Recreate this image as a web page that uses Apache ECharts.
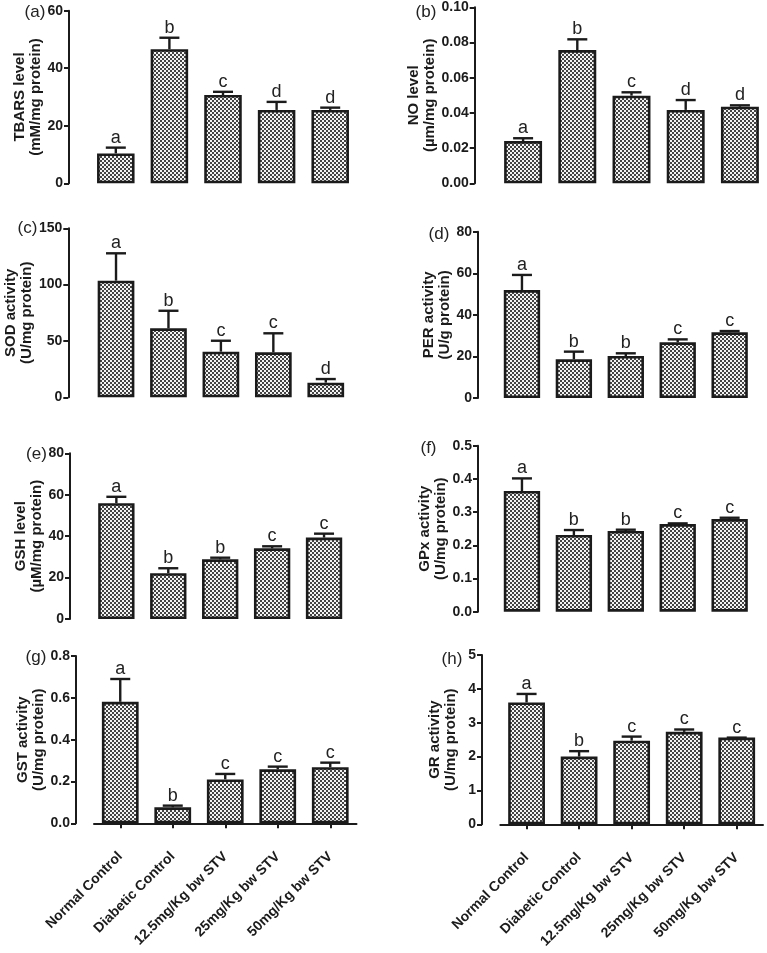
<!DOCTYPE html>
<html>
<head>
<meta charset="utf-8">
<script src="https://cdn.jsdelivr.net/npm/echarts@6/dist/echarts.min.js"></script>
<style>
html,body{margin:0;padding:0;background:#fff;}
#main{width:767px;height:953px;}
</style>
</head>
<body>
<div id="main"></div>
<script>
// ---------------- DATA ----------------
const categories = ['Normal Control', 'Diabetic Control', '12.5mg/Kg bw STV', '25mg/Kg bw STV', '50mg/Kg bw STV'];

const tbarsMean = [10.4, 46.6, 30.7, 25.5, 25.5];
const tbarsSem  = [2.0, 4.0, 1.1, 2.8, 0.8];
const tbarsLetters = ['a', 'b', 'c', 'd', 'd'];

const noMean = [0.024, 0.0757, 0.0498, 0.0417, 0.0435];
const noSem  = [0.0016, 0.0061, 0.0019, 0.0056, 0.0008];
const noLetters = ['a', 'b', 'c', 'd', 'd'];

const sodMean = [103.5, 61.2, 40.5, 39.9, 13.0];
const sodSem  = [24.3, 15.6, 9.7, 16.9, 3.2];
const sodLetters = ['a', 'b', 'c', 'c', 'd'];

const perMean = [51.9, 18.6, 20.2, 26.8, 31.6];
const perSem  = [7.3, 3.7, 1.3, 1.4, 0.6];
const perLetters = ['a', 'b', 'b', 'c', 'c'];

const gshMean = [55.9, 22.1, 28.8, 34.1, 39.3];
const gshSem  = [3.1, 2.4, 0.8, 1.0, 1.9];
const gshLetters = ['a', 'b', 'b', 'c', 'c'];

const gpxMean = [0.3635, 0.231, 0.243, 0.264, 0.279];
const gpxSem  = [0.038, 0.015, 0.004, 0.002, 0.004];
const gpxLetters = ['a', 'b', 'b', 'c', 'c'];

const gstMean = [0.581, 0.0765, 0.21, 0.258, 0.268];
const gstSem  = [0.109, 0.008, 0.026, 0.013, 0.022];
const gstLetters = ['a', 'b', 'c', 'c', 'c'];

const grMean = [3.60, 2.00, 2.47, 2.73, 2.56];
const grSem  = [0.25, 0.16, 0.12, 0.07, 0.0];
const grLetters = ['a', 'b', 'c', 'c', 'c'];

const panelTags = ['(a)', '(b)', '(c)', '(d)', '(e)', '(f)', '(g)', '(h)'];
const yTitles = [
  ['TBARS level', '(mM/mg protein)'],
  ['NO level', '(\u00b5m/mg protein)'],
  ['SOD activity', '(U/mg protein)'],
  ['PER activity', '(U/g protein)'],
  ['GSH level', '(\u00b5M/mg protein)'],
  ['GPx activity', '(U/mg protein)'],
  ['GST activity', '(U/mg protein)'],
  ['GR activity', '(U/mg protein)']
];
const yMin = [0, 0, 0, 0, 0, 0, 0, 0];
const yMax = [60, 0.10, 150, 80, 80, 0.5, 0.8, 5];
const yInterval = [20, 0.02, 50, 20, 20, 0.1, 0.2, 1];
const yDecimals = [0, 2, 0, 0, 0, 1, 1, 0];

const panels = [
  {mean: tbarsMean, sem: tbarsSem, letters: tbarsLetters},
  {mean: noMean, sem: noSem, letters: noLetters},
  {mean: sodMean, sem: sodSem, letters: sodLetters},
  {mean: perMean, sem: perSem, letters: perLetters},
  {mean: gshMean, sem: gshSem, letters: gshLetters},
  {mean: gpxMean, sem: gpxSem, letters: gpxLetters},
  {mean: gstMean, sem: gstSem, letters: gstLetters},
  {mean: grMean, sem: grSem, letters: grLetters}
];

// ---------------- LAYOUT ----------------
const gridBoxes = [
  {left: 89,   right: 410,  top: 10.7,  height: 172.6, axisX: 69},
  {left: 496,  right: -2.6, top: 7.3,   height: 176,   axisX: 474.7},
  {left: 89.8, right: 415,  top: 228.3, height: 169,   axisX: 68.3},
  {left: 496,  right: 11.4, top: 231.7, height: 166.3, axisX: 478},
  {left: 90.4, right: 417,  top: 453.3, height: 165.7, axisX: 70},
  {left: 496,  right: 11.4, top: 445.7, height: 166,   axisX: 478},
  {left: 94,   right: 410.5,top: 656,   height: 167.3, axisX: 76},
  {left: 500.3,right: 4,    top: 655,   height: 169.3, axisX: 482}
];
const tagPos = [
  [35, 12], [426, 12.5], [27.5, 228], [439, 234], [36.5, 454], [428.5, 448], [36, 657.5], [452, 659]
];

const FONT = '"Liberation Sans", Arial, Helvetica, sans-serif';
const INK = '#1b1b1b';

// dotted / checker fill pattern
const pat = document.createElement('canvas');
pat.width = 4; pat.height = 4;
const pc = pat.getContext('2d');
pc.fillStyle = '#f4f4f4'; pc.fillRect(0, 0, 4, 4);
pc.fillStyle = '#444444';
pc.fillRect(0, 0, 2, 2); pc.fillRect(2, 2, 2, 2);

const grids = [], xAxes = [], yAxes = [], series = [], graphics = [];

panels.forEach((p, i) => {
  const g = gridBoxes[i];
  grids.push({left: g.left, right: g.right, top: g.top, height: g.height, containLabel: false});
  const bottomRow = i >= 6;
  xAxes.push({
    type: 'category', gridIndex: i, data: categories,
    show: bottomRow,
    offset: bottomRow ? 20 : 0,
    axisLine: {show: bottomRow, lineStyle: {color: INK, width: 2}},
    axisTick: {show: bottomRow, alignWithLabel: true, length: 5, lineStyle: {color: INK, width: 2}},
    axisLabel: {show: bottomRow, rotate: 45, margin: 11, fontFamily: FONT, fontWeight: 'bold', fontSize: 14, color: INK, interval: 0},
    splitLine: {show: false}
  });
  yAxes.push({
    type: 'value', gridIndex: i,
    min: yMin[i], max: yMax[i], interval: yInterval[i],
    offset: g.left - g.axisX,
    name: yTitles[i].join('\n'),
    nameLocation: 'middle', nameRotate: 90, nameGap: 23,
    nameTextStyle: {fontFamily: FONT, fontWeight: 'bold', fontSize: 15, color: INK, lineHeight: 16, align: 'center'},
    axisLine: {show: true, lineStyle: {color: INK, width: 2}},
    axisTick: {show: true, length: 5, lineStyle: {color: INK, width: 2}},
    axisLabel: {margin: 6, fontFamily: FONT, fontWeight: 'bold', fontSize: 14, color: INK,
      formatter: v => v.toFixed(yDecimals[i])},
    splitLine: {show: false}
  });
  series.push({
    type: 'bar', xAxisIndex: i, yAxisIndex: i,
    data: p.mean,
    barCategoryGap: '30%',
    itemStyle: {color: {image: pat, repeat: 'repeat'}, borderColor: INK, borderWidth: 2.6},
    z: 2, silent: true
  });
  series.push({
    type: 'custom', xAxisIndex: i, yAxisIndex: i,
    data: p.mean.map((m, k) => [k, m, m + p.sem[k]]),
    z: 3, silent: true,
    renderItem: (params, api) => {
      const k = api.value(0);
      const base = api.coord([k, api.value(1)]);
      const top = api.coord([k, api.value(2)]);
      const cap = 10;
      return {
        type: 'group',
        children: [
          {type: 'line', shape: {x1: base[0], y1: base[1], x2: top[0], y2: top[1]}, style: {stroke: INK, lineWidth: 2.4}},
          {type: 'line', shape: {x1: top[0] - cap, y1: top[1], x2: top[0] + cap, y2: top[1]}, style: {stroke: INK, lineWidth: 2.4}},
          {type: 'text', x: top[0], y: top[1] - 1,
            style: {text: p.letters[k], fill: '#222', font: '18px ' + FONT, textAlign: 'center', textVerticalAlign: 'bottom'}}
        ]
      };
    }
  });
  graphics.push({
    type: 'text', x: tagPos[i][0], y: tagPos[i][1],
    style: {text: panelTags[i], fill: '#222', font: '17px ' + FONT, textAlign: 'center', textVerticalAlign: 'middle'}
  });
});

const chart = echarts.init(document.getElementById('main'), null, {renderer: 'canvas'});
chart.setOption({
  animation: false,
  backgroundColor: '#ffffff',
  grid: grids, xAxis: xAxes, yAxis: yAxes, series: series,
  graphic: graphics
});
</script>
</body>
</html>
